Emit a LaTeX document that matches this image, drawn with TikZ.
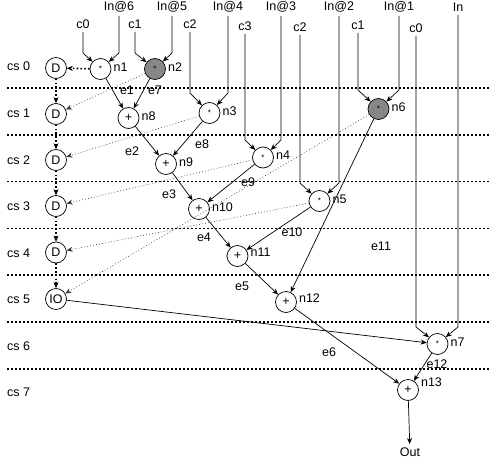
\documentclass[tikz,border=0pt]{standalone}
\usepackage{fontspec}
\setmainfont{Liberation Sans}
\usetikzlibrary{arrows.meta, positioning}
\tikzset{
  op/.style={circle, draw, line width=0.7pt, minimum size=21pt, inner sep=0pt, fill=white},
  busy/.style={op, fill=black!47},
  tag/.style={anchor=west, inner sep=1pt, xshift=1pt, yshift=2pt},
  elab/.style={inner sep=0pt},
  flow/.style={-{Stealth[length=6pt, width=5pt]}, line width=0.7pt},
  chain/.style={-{Stealth[length=6pt, width=5pt, line width=0.5pt]}, line width=1.6pt, dash pattern=on 1.6pt off 2.2pt},
  spill/.style={-{Stealth[length=6pt, width=5pt]}, line width=0.6pt, black!80, dash pattern=on 0.8pt off 2.2pt},
  sep/.style={line width=1.6pt, dash pattern=on 1.6pt off 2.4pt}
}
\newcommand{\mulsym}{{\footnotesize *}}

\begin{document}
\begin{tikzpicture}[x=1pt, y=-1pt, font=\fontsize{12.5}{14}\selectfont]
  \useasboundingbox (0,0) rectangle (490,463);
  % control steps
  \foreach \k in {0,...,6}
    \draw[sep] (7,{88+46.8*\k}) -- (490,{88+46.8*\k});
  \foreach \k in {0,...,7}
    \node[anchor=west, inner sep=0pt] (cs\k) at (7,{66.5+46.6*\k}) {cs \k};
  %
  \node[op] (d0) at (56,68) {D};
  \node[op] (d1) at (56,114) {D};
  \node[op] (d2) at (56,160) {D};
  \node[op] (d3) at (56,206) {D};
  \node[op] (d4) at (56,252.5) {D};
  \node[op] (io) at (56,299) {IO};
  %
  \node[op] (n1) at (100.5,69) {\mulsym};   \node[tag] at (n1.east) {n1};
  \node[busy] (n2) at (155,69) {\mulsym};   \node[tag] at (n2.east) {n2};
  \node[op] (n8) at (128.5,118) {+};        \node[tag] at (n8.east) {n8};
  \node[op] (n3) at (209.5,113) {\mulsym};  \node[tag] at (n3.east) {n3};
  \node[busy] (n6) at (378.5,109) {\mulsym};\node[tag] at (n6.east) {n6};
  \node[op] (n9) at (166,164) {+};          \node[tag] at (n9.east) {n9};
  \node[op] (n4) at (263,157.5) {\mulsym};  \node[tag] at (n4.east) {n4};
  \node[op] (n10) at (199,209) {+};         \node[tag] at (n10.east) {n10};
  \node[op] (n5) at (319.5,201) {\mulsym};  \node[tag] at (n5.east) {n5};
  \node[op] (n11) at (237.5,256) {+};       \node[tag, yshift=2pt] at (n11.east) {n11};
  \node[op] (n12) at (286,302) {+};         \node[tag, yshift=2pt] at (n12.east) {n12};
  \node[op] (n7) at (437.5,344) {\mulsym};  \node[tag] at (n7.east) {n7};
  \node[op] (n13) at (408,390) {+};         \node[tag, anchor=south west] at (n13.east) {n13};
  \node (out) at (410,452) {Out};
  %
  \node (c0a) at (83,24) {c0};   \node (in6) at (119,7) {In@6};
  \node (c1a) at (135,24) {c1};  \node (in5) at (172,7) {In@5};
  \node (c2a) at (190,24) {c2};  \node (in4) at (228,7) {In@4};
  \node (c3) at (245,26) {c3};   \node (in3) at (281,7) {In@3};
  \node (c2b) at (300,27) {c2};  \node (in2) at (339,7) {In@2};
  \node (c1b) at (358,25) {c1};  \node (in1) at (399,7) {In@1};
  \node (c0b) at (416,28) {c0};  \node (in0) at (458,7) {In};
  %
  \draw[flow] (c0a.south) -- (c0a.south |- 0,53) -- (n1);
  \draw[flow] (in6.south) -- (in6.south |- 0,53) -- (n1);
  \draw[flow] (c1a.south) -- (c1a.south |- 0,53) -- (n2);
  \draw[flow] (in5.south) -- (in5.south |- 0,53) -- (n2);
  \draw[flow] (c2a.south) -- (c2a.south |- 0,93) -- (n3);
  \draw[flow] (in4.south) -- (in4.south |- 0,93) -- (n3);
  \draw[flow] (c3.south) -- (c3.south |- 0,140) -- (n4);
  \draw[flow] (in3.south) -- (in3.south |- 0,140) -- (n4);
  \draw[flow] (c2b.south) -- (c2b.south |- 0,183) -- (n5);
  \draw[flow] (in2.south) -- (in2.south |- 0,183) -- (n5);
  \draw[flow] (c1b.south) -- (c1b.south |- 0,90) -- (n6);
  \draw[flow] (in1.south) -- (in1.south |- 0,90) -- (n6);
  \draw[flow] (c0b.south) -- (c0b.south |- 0,327) -- (n7);
  \draw[flow] (in0.south) -- (in0.south |- 0,327) -- (n7);
  %
  \draw[flow] (n1) -- (n8);   \node[elab] (e1) at (127,90) {e1};
  \draw[flow] (n2) -- (n8);   \node[elab] (e7) at (155,90) {e7};
  \draw[flow] (n8) -- (n9);   \node[elab] (e2) at (132,151) {e2};
  \draw[flow] (n3) -- (n9);   \node[elab] (e8) at (202,144) {e8};
  \draw[flow] (n9) -- (n10);  \node[elab] (e3) at (169,194) {e3};
  \draw[flow] (n4) -- (n10);  \node[elab] (e9) at (248,182) {e9};
  \draw[flow] (n10) -- (n11); \node[elab] (e4) at (204,237) {e4};
  \draw[flow] (n5) -- (n11);  \node[elab] (e10) at (292,232) {e10};
  \draw[flow] (n11) -- (n12); \node[elab] (e5) at (242,286) {e5};
  \draw[flow] (n6) -- (n12);  \node[elab] (e11) at (381,246) {e11};
  \draw[flow] (n12) -- (n13); \node[elab] (e6) at (329,352) {e6};
  \draw[flow] (n7) -- (n13);  \node[elab] (e12) at (437,364) {e12};
  \draw[flow] (io) -- (n7);
  \draw[flow] (n13) -- (out);
  % stored values
  \draw[chain] (n1) -- (d0);
  \draw[chain] (d0) -- (d1);
  \draw[chain] (d1) -- (d2);
  \draw[chain] (d2) -- (d3);
  \draw[chain] (d3) -- (d4);
  \draw[chain] (d4) -- (io);
  \draw[spill] (n2) -- (d1);
  \draw[spill] (n3) -- (d2);
  \draw[spill] (n4) -- (d3);
  \draw[spill] (n5) -- (d4);
  \draw[spill] (n6) -- (io);
\end{tikzpicture}
\end{document}
